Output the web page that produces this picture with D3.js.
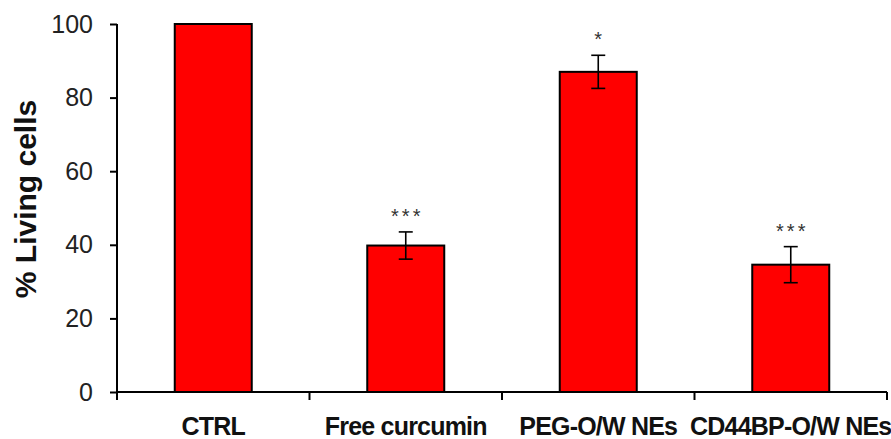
<!DOCTYPE html>
<html>
<head>
<meta charset="utf-8">
<script src="https://cdn.jsdelivr.net/npm/d3@7"></script>
<style>
  html, body { margin: 0; padding: 0; background: #fff; }
  svg { display: block; }
</style>
</head>
<body>
<svg id="chart" width="891" height="439"></svg>
<script>
// Cell viability after treatment (% living cells, mean ± SD)
const categories = ["CTRL", "Free curcumin", "PEG-O/W NEs", "CD44BP-O/W NEs"];
const values = [100, 39.8, 87.0, 34.6];
const errors = [0, 3.7, 4.5, 4.9];
const significance = ["", "***", "*", "***"];
const yTicks = [0, 20, 40, 60, 80, 100];
const yLabel = "% Living cells";

const svg = d3.select("#chart");
const plotLeft = 117, plotRight = 887, plotTop = 24, plotBottom = 392;

const x = d3.scaleBand().domain(categories).range([plotLeft, plotRight]).padding(0);
const y = d3.scaleLinear().domain([0, 100]).range([plotBottom, plotTop]);
const barW = x.bandwidth() * 0.4;

const font = "'Liberation Sans', Arial, Helvetica, sans-serif";

// Bars
svg.append("g").selectAll("rect")
  .data(categories)
  .join("rect")
  .attr("x", (d) => x(d) + x.bandwidth() / 2 - barW / 2)
  .attr("y", (d, i) => y(values[i]))
  .attr("width", barW)
  .attr("height", (d, i) => y(0) - y(values[i]))
  .attr("fill", "#ff0000")
  .attr("stroke", "#000")
  .attr("stroke-width", 2);

// Error bars
const eb = svg.append("g").attr("stroke", "#000").attr("stroke-width", 1.6);
categories.forEach((c, i) => {
  if (!errors[i]) return;
  const cx = x(c) + x.bandwidth() / 2;
  const y1 = y(values[i] + errors[i]), y2 = y(values[i] - errors[i]);
  eb.append("line").attr("x1", cx).attr("x2", cx).attr("y1", y1).attr("y2", y2);
  eb.append("line").attr("x1", cx - 7).attr("x2", cx + 7).attr("y1", y1).attr("y2", y1);
  eb.append("line").attr("x1", cx - 7).attr("x2", cx + 7).attr("y1", y2).attr("y2", y2);
});

// Significance marks (letter-spaced asterisks, shifted to stay centred)
const starSpacing = 3;
svg.append("g").selectAll("text")
  .data(categories)
  .join("text")
  .attr("x", (d) => x(d) + x.bandwidth() / 2 + starSpacing / 2)
  .attr("y", (d, i) => y(values[i] + errors[i]) - 9)
  .attr("text-anchor", "middle")
  .attr("font-family", font)
  .attr("font-size", 20)
  .attr("letter-spacing", starSpacing + "px")
  .attr("fill", "#333")
  .text((d, i) => significance[i]);

// Y axis
const yAxis = svg.append("g")
  .attr("transform", `translate(${plotLeft},0)`)
  .call(d3.axisLeft(y).tickValues(yTicks).tickSize(7).tickPadding(17).tickFormat(d3.format("d")));
yAxis.select(".domain").attr("stroke", "#000").attr("stroke-width", 2).attr("d", `M0,${plotTop}V${plotBottom}`);
yAxis.selectAll(".tick line").attr("stroke", "#000").attr("stroke-width", 2);
yAxis.selectAll(".tick text")
  .attr("font-family", font).attr("font-size", 25).attr("fill", "#222");

// X axis: ticks at category boundaries
const xAxis = svg.append("g").attr("transform", `translate(0,${plotBottom})`);
xAxis.append("line").attr("x1", plotLeft).attr("x2", plotRight).attr("y1", 0).attr("y2", 0)
  .attr("stroke", "#000").attr("stroke-width", 2);
const bounds = categories.map((c) => x(c)).concat([x(categories[categories.length - 1]) + x.bandwidth()]);
xAxis.selectAll("line.tk").data(bounds).join("line").attr("class", "tk")
  .attr("x1", (d) => d).attr("x2", (d) => d).attr("y1", 0).attr("y2", 8)
  .attr("stroke", "#000").attr("stroke-width", 2);
xAxis.selectAll("text").data(categories).join("text")
  .attr("x", (d) => x(d) + x.bandwidth() / 2)
  .attr("y", 43)
  .attr("text-anchor", "middle")
  .attr("font-family", font).attr("font-size", 25).attr("font-weight", "bold")
  .attr("letter-spacing", "-0.8px")
  .attr("fill", "#111")
  .text((d) => d);

// Y axis title
svg.append("text")
  .attr("transform", `translate(36,${(plotTop + plotBottom) / 2 - 9}) rotate(-90)`)
  .attr("text-anchor", "middle")
  .attr("font-family", font).attr("font-size", 30).attr("font-weight", "bold")
  .attr("fill", "#111")
  .text(yLabel);
</script>
</body>
</html>
